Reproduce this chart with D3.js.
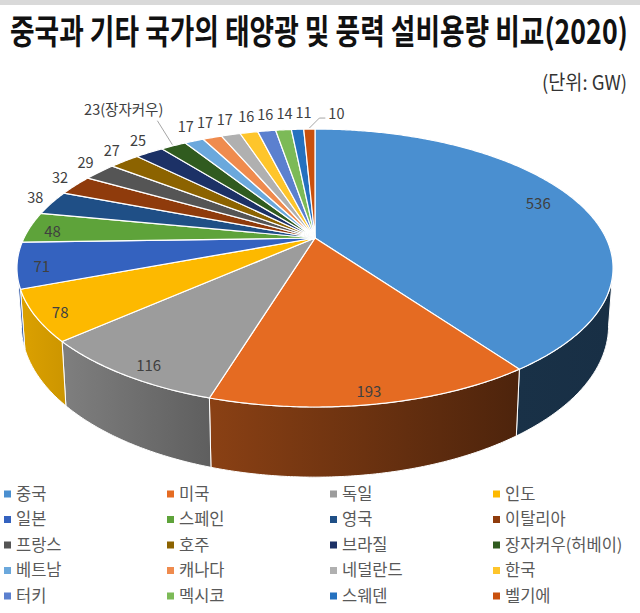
<!DOCTYPE html>
<html>
<head>
<meta charset="utf-8">
<script src="https://cdn.jsdelivr.net/npm/d3@7"></script>
<style>
  body { margin: 0; background: #fff; }
  svg { display: block; }
</style>
</head>
<body>
<svg id="chart"></svg>
<script>
// data (GW, 2020)
const countries = ["중국", "미국", "독일", "인도", "일본", "스페인", "영국", "이탈리아", "프랑스", "호주",
  "브라질", "장자커우(허베이)", "베트남", "캐나다", "네덜란드", "한국", "터키", "멕시코", "스웨덴", "벨기에"];
const capacity = [536, 193, 116, 78, 71, 48, 38, 32, 29, 27, 25, 23, 17, 17, 17, 16, 16, 14, 11, 10];
const sliceColors = ["#4a8fd0", "#e56b22", "#9c9c9c", "#fdb900", "#3462bf", "#5ea33a", "#1f4f86", "#8f3b0c",
  "#555555", "#8c6300", "#1c3166", "#305b1f", "#6ba8dc", "#ef8b4e", "#b0b0b0", "#fec52b", "#5b80cf",
  "#7cba57", "#2571bf", "#c9500d"];
const labelTexts = capacity.map((v, i) => i === 11 ? v + "(장자커우)" : String(v));

const width = 640, height = 613;
const font = "'Noto Sans CJK KR', 'Noto Sans', sans-serif";

const svg = d3.select("#chart")
    .attr("width", width)
    .attr("height", height)
    .attr("viewBox", `0 0 ${width} ${height}`);

svg.append("rect").attr("x", 0).attr("y", 0).attr("width", width).attr("height", 5).attr("fill", "#d9d9d9");

// condensed text: draw at natural size, then squeeze horizontally to the wanted width
function squeezedText(x, y, wantWidth, anchorEnd) {
  const t = svg.append("text").attr("font-family", font);
  return function (size, weight, fill, str) {
    t.attr("font-size", size).attr("font-weight", weight).attr("fill", fill).text(str);
    const w = t.node().getComputedTextLength();
    const sx = wantWidth / w;
    const x0 = anchorEnd ? x - wantWidth : x;
    t.attr("transform", `translate(${x0},${y}) scale(${sx},1)`);
    return t;
  };
}
squeezedText(10, 44, 618, false)(34, 700, "#111", "중국과 기타 국가의 태양광 및 풍력 설비용량 비교(2020)");
squeezedText(627, 90, 85, true)(20, 400, "#333", "(단위: GW)");

// 3D pie projection: tilted disc with a bit of perspective
const cx = 315, cy = 238, rx = 291, ry = 132.5, persp = 0.216, depth = 55, bottomShrink = 0.985;

function proj(r, ang) {
  const u = r * Math.sin(ang), v = -r * Math.cos(ang);
  const w = 1 - persp * v;
  return [cx + rx * u / w, cy + ry * v / w];
}
function projBottom(ang) {
  const p = proj(1, ang);
  const v = -Math.cos(ang);
  return [cx + (p[0] - cx) * bottomShrink, p[1] + depth / (1 - persp * v)];
}
function arcPoints(a0, a1, f) {
  const n = Math.max(2, Math.ceil((a1 - a0) / (Math.PI / 360)));
  return d3.range(n + 1).map(j => f(a0 + (a1 - a0) * j / n));
}

const pie = d3.pie().sort(null).value(d => d);
const arcs = pie(capacity);

// side shading gradients (lighter on the left, darker on the right)
const defs = svg.append("defs");
const shadeStops = [[20, 0.87], [214, 0.6], [515, 0.34], [613, 0.33]];
sliceColors.forEach((c, i) => {
  const g = defs.append("linearGradient")
      .attr("id", "side" + i)
      .attr("gradientUnits", "userSpaceOnUse")
      .attr("x1", 20).attr("x2", 613).attr("y1", 0).attr("y2", 0);
  const base = d3.rgb(c);
  shadeStops.forEach(([x, f]) => {
    g.append("stop")
        .attr("offset", (x - 20) / 593)
        .attr("stop-color", d3.rgb(base.r * f, base.g * f, base.b * f).formatHex());
  });
});

const line = d3.line();
const visFrom = Math.acos(-persp), visTo = 2 * Math.PI - Math.acos(-persp);

// sides first
const sides = svg.append("g");
arcs.forEach((d, i) => {
  const s = Math.max(d.startAngle, visFrom), e = Math.min(d.endAngle, visTo);
  if (s >= e) return;
  const pts = arcPoints(s, e, a => proj(1, a)).concat(arcPoints(s, e, projBottom).reverse());
  sides.append("path")
      .attr("d", line(pts) + "Z")
      .attr("fill", `url(#side${i})`)
      .attr("stroke", "#fff")
      .attr("stroke-width", 1)
      .attr("stroke-linejoin", "round");
});

// top faces
const tops = svg.append("g");
arcs.forEach((d, i) => {
  const pts = [proj(0, 0)].concat(arcPoints(d.startAngle, d.endAngle, a => proj(1, a)));
  tops.append("path")
      .attr("d", line(pts) + "Z")
      .attr("fill", sliceColors[i])
      .attr("stroke", "#fff")
      .attr("stroke-width", 1.2)
      .attr("stroke-linejoin", "round");
});

// data labels
const labels = svg.append("g")
    .attr("font-family", font)
    .attr("font-size", 14.5)
    .attr("fill", "#404040");

let prevRight = -Infinity; // for nudging the crowded labels along the top rim
arcs.forEach((d, i) => {
  const mid = (d.startAngle + d.endAngle) / 2;
  if (i < 6) {
    const r = i === 0 ? 0.85 : 0.92;
    const p = proj(r, mid);
    labels.append("text")
        .attr("x", p[0] + (i === 2 ? 6 : 0)).attr("y", p[1] + (i === 0 ? -2 : 4))
        .attr("dy", "0.35em")
        .attr("text-anchor", "middle")
        .attr("font-size", 15)
        .text(labelTexts[i]);
    return;
  }
  const edge = proj(1, mid);
  if (i === 11) {
    labels.append("text")
        .attr("x", edge[0] - 10).attr("y", edge[1] - 36)
        .attr("dy", "0.35em")
        .attr("text-anchor", "end")
        .text(labelTexts[i]);
    svg.append("path")
        .attr("d", line([[edge[0] - 16, edge[1] - 25], [edge[0] - 1, edge[1] - 1]]))
        .attr("stroke", "#a6a6a6").attr("fill", "none");
    return;
  }
  if (i === 19) {
    labels.append("text")
        .attr("x", edge[0] + 19).attr("y", edge[1] - 15)
        .attr("dy", "0.35em")
        .attr("text-anchor", "start")
        .text(labelTexts[i]);
    svg.append("path")
        .attr("d", line([[edge[0] + 16, edge[1] - 11], [edge[0] + 10, edge[1] - 11], [edge[0], edge[1] - 1]]))
        .attr("stroke", "#a6a6a6").attr("fill", "none");
    return;
  }
  const u = Math.sin(mid), v = -Math.cos(mid);
  const t = labels.append("text")
      .attr("dy", "0.35em")
      .attr("text-anchor", "middle")
      .text(labelTexts[i]);
  const w = t.node().getComputedTextLength(), h = 14, gap = 9;
  let x = edge[0] + gap * u + u * w / 2 + (v < -0.95 ? 2 : 0);
  if (v < -0.95) {
    x = Math.max(x, prevRight + 3 + w / 2);
    prevRight = x + w / 2;
  }
  t.attr("x", x).attr("y", edge[1] + gap * v + v * h / 2);
});

// legend: 4 columns x 5 rows
const legendX = d3.scaleLinear().domain([0, 3]).range([4, 493]);
const legendY = d3.scaleLinear().domain([0, 4]).range([494, 596]);
const legend = svg.append("g")
    .attr("font-family", font)
    .attr("font-size", 16.5)
    .attr("fill", "#595959");

countries.forEach((name, i) => {
  const col = i % 4, row = Math.floor(i / 4);
  const x = legendX(col), y = legendY(row);
  legend.append("rect")
      .attr("x", x).attr("y", y - 3.5)
      .attr("width", 7).attr("height", 7)
      .attr("fill", sliceColors[i]);
  legend.append("text")
      .attr("x", x + 12).attr("y", y)
      .attr("dy", "0.35em")
      .text(name);
});
</script>
</body>
</html>
